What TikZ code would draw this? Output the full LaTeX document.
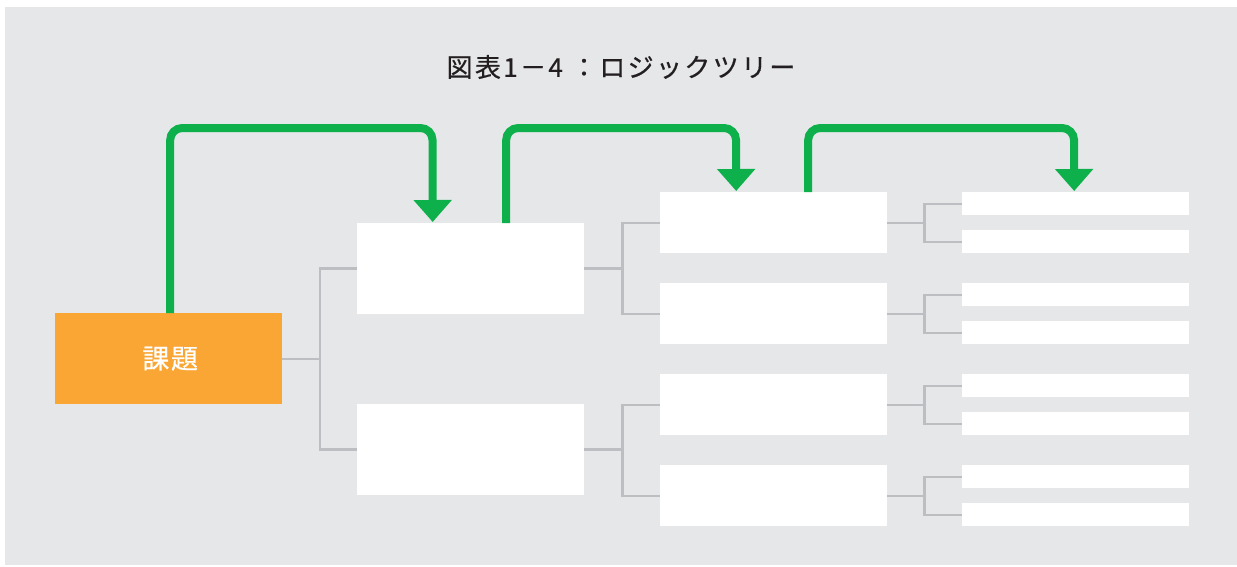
\documentclass[tikz,border=0pt]{standalone}
\usepackage{fontspec}
\newfontfamily\jp{Noto Sans CJK JP}
\newfontfamily\jptitle[LetterSpace=9,FakeBold=0.6]{Noto Sans CJK JP}
\newfontfamily\jplabel[LetterSpace=6,FakeBold=0.6]{Noto Sans CJK JP}
\usetikzlibrary{arrows.meta}
\definecolor{bg}{HTML}{E6E7E9}
\definecolor{grn}{HTML}{0DB04B}
\definecolor{org}{HTML}{F9A634}
\definecolor{lgray}{HTML}{BDBEC1}
\definecolor{txt}{HTML}{231F20}
\begin{document}
\begin{tikzpicture}[x=1pt,y=-1pt,
  box/.style={fill=white, draw=none, inner sep=0pt, anchor=north west, minimum width=227pt},
  bigbox/.style={box, minimum height=90.5pt},
  midbox/.style={box, minimum height=61pt},
  smallbox/.style={box, minimum height=23pt},
  conn/.style={draw=lgray, line width=2.2pt},
  garrow/.style={draw=grn, line width=8pt, rounded corners=12pt, -{Triangle[width=37pt,length=22pt]}}
]
\useasboundingbox (0,0) rectangle (1237,566);
\fill[bg] (5,7) rectangle (1237,565);

\node[font=\jptitle\fontsize{26}{30}\selectfont, text=txt, inner sep=0pt] (title) at (621,67) {図表1－4 ：ロジックツリー};

\node[box, fill=org, minimum height=91pt] (root) at (55,313) {};
\node[text=white, font=\jplabel\fontsize{27}{30}\selectfont, inner sep=0pt] (rootlabel) at ([xshift=1.5pt]root.center) {課題};

\node[bigbox] (a1) at (357,223) {};
\node[bigbox] (a2) at (357,404) {};

\node[midbox] (b1) at (660,192) {};
\node[midbox] (b2) at (660,283) {};
\node[midbox] (b3) at (660,374) {};
\node[midbox] (b4) at (660,465) {};

\node[smallbox] (c1) at (962,192) {};
\node[smallbox] (c2) at (962,230) {};
\node[smallbox] (c3) at (962,283) {};
\node[smallbox] (c4) at (962,321) {};
\node[smallbox] (c5) at (962,374) {};
\node[smallbox] (c6) at (962,412) {};
\node[smallbox] (c7) at (962,465) {};
\node[smallbox] (c8) at (962,503) {};

% connectors
\draw[conn] (root.east) -- ++(37.5,0) coordinate (j0) |- (a1.west);
\draw[conn] (j0) |- (a2.west);
\draw[conn] (a1.east) -- ++(38,0) coordinate (j1) |- (b1.west);
\draw[conn] (j1) |- (b2.west);
\draw[conn] (a2.east) -- ++(38,0) coordinate (j2) |- (b3.west);
\draw[conn] (j2) |- (b4.west);
\draw[conn] (b1.east) -- ++(37,0) coordinate (k1) |- (c1.west);
\draw[conn] (k1) |- (c2.west);
\draw[conn] (b2.east) -- ++(37,0) coordinate (k2) |- (c3.west);
\draw[conn] (k2) |- (c4.west);
\draw[conn] (b3.east) -- ++(37,0) coordinate (k3) |- (c5.west);
\draw[conn] (k3) |- (c6.west);
\draw[conn] (b4.east) -- ++(37,0) coordinate (k4) |- (c7.west);
\draw[conn] (k4) |- (c8.west);

% green arrows
\coordinate (t1) at (432.5,128);
\coordinate (t2) at (736,128);
\coordinate (t3) at (1074,128);
\draw[garrow] ([xshift=1.5pt]root.north) |- (t1) -- ([xshift=-38pt,yshift=1pt]a1.north);
\draw[garrow] ([xshift=35.5pt]a1.north) |- (t2) -- ([xshift=-37.5pt,yshift=1pt]b1.north);
\draw[garrow] ([xshift=34.5pt]b1.north) |- (t3) -- ([xshift=-1.5pt,yshift=1pt]c1.north);
\end{tikzpicture}
\end{document}
